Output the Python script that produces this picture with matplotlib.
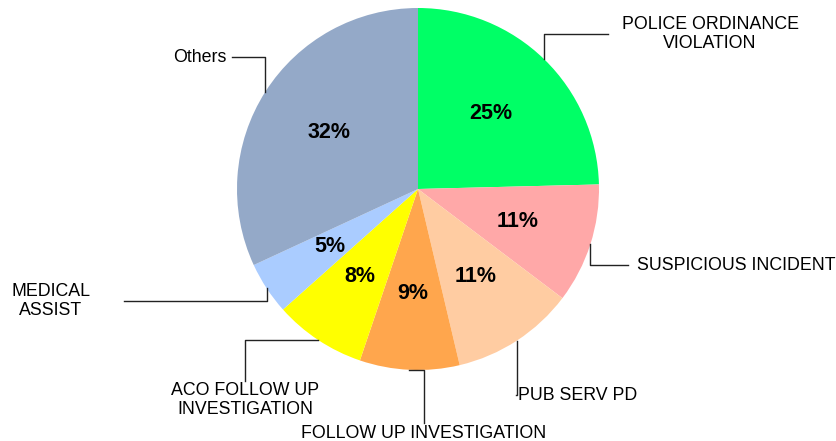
import numpy as np
import matplotlib.pyplot as plt

plt.rcParams['font.family'] = ['Liberation Sans', 'DejaVu Sans']

# slice data (clockwise from 12 o'clock)
labels = ['POLICE ORDINANCE\nVIOLATION', 'SUSPICIOUS INCIDENT', 'PUB SERV PD',
          'FOLLOW UP INVESTIGATION', 'ACO FOLLOW UP\nINVESTIGATION',
          'MEDICAL\nASSIST', 'Others']
values = [24.6, 10.7, 11.0, 8.9, 8.2, 4.7, 31.9]
colors = ['#00FF66', '#FFA8A8', '#FFCCA2', '#FFA64D', '#FFFF00', '#AACCFF', '#94A9C8']

W, H = 837, 441
cx, cy, R = 418, 189, 181


def px(x, y):
    # pixel position -> data units of the pie (radius 1)
    return (x - cx) / R, (cy - y) / R


# label layout: line end (px), first leg direction, text pos (px), alignment
leader_end = [(608, 34), (628, 265), (516, 395), (424, 423), (245, 381), (124, 301), (232, 57)]
leader_mode = ['v', 'v', 'v', 'h', 'h', 'v', 'v']
text_pos = [(710, 34), (637, 265), (518, 395), (424, 433), (245, 400), (51, 301), (226, 57)]
text_ha = ['center', 'left', 'left', 'center', 'center', 'center', 'right']

fig = plt.figure(figsize=(W / 100, H / 100), dpi=100)
ax = fig.add_axes([(cx - R) / W, (H - cy - R) / H, 2 * R / W, 2 * R / H])

wedges, _, autotexts = ax.pie(values, colors=colors, startangle=90, counterclock=False,
                              autopct=lambda p: '%d%%' % round(p), pctdistance=0.58,
                              radius=1, wedgeprops=dict(linewidth=0),
                              textprops=dict(fontsize=15.5, fontweight='bold', color='black'))

for w, lab, end, mode, tp, ha in zip(wedges, labels, leader_end, leader_mode, text_pos, text_ha):
    mid = np.deg2rad((w.theta1 + w.theta2) / 2)
    x0, y0 = np.cos(mid), np.sin(mid)
    ex, ey = px(*end)
    if mode == 'v':
        xs, ys = [x0, x0, ex], [y0, ey, ey]
    else:
        xs, ys = [x0, ex, ex], [y0, y0, ey]
    ax.plot(xs, ys, color='#222222', lw=1, clip_on=False)
    tx, ty = px(*tp)
    ax.text(tx, ty, lab, ha=ha, va='center', fontsize=12.8, linespacing=1.2)

ax.set_xlim(-1, 1)
ax.set_ylim(-1, 1)
ax.set_aspect('equal')
ax.axis('off')

fig.savefig('out.png', dpi=100)
